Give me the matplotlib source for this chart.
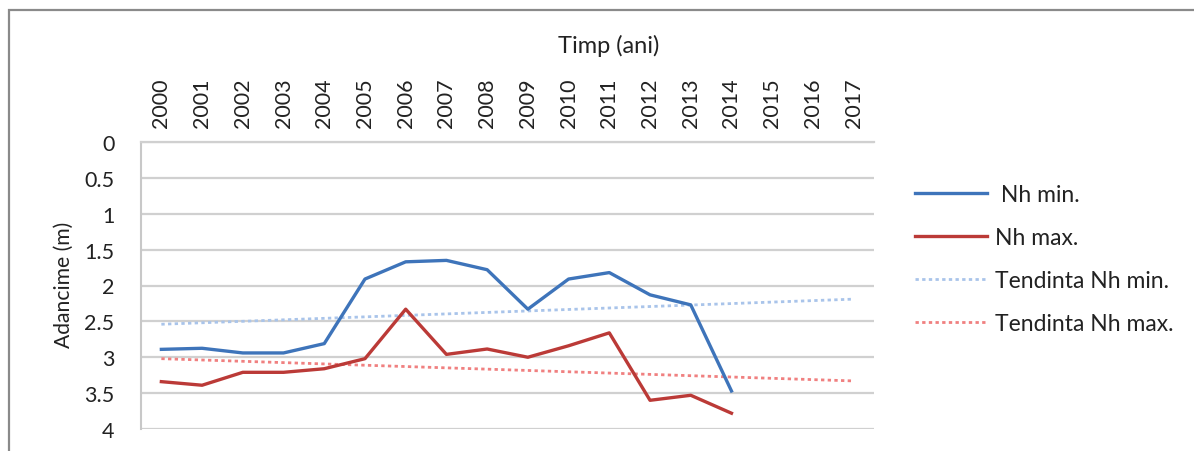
import numpy as np
import matplotlib.pyplot as plt
from matplotlib.patches import Rectangle

plt.rcParams['font.family'] = ['Lato', 'DejaVu Sans']

# Date
ani = [str(a) for a in range(2000, 2018)]
ani_masurati = ani[:15]
nh_min = [2.89, 2.875, 2.94, 2.94, 2.81, 1.91, 1.67, 1.65, 1.78, 2.33, 1.91, 1.82, 2.13, 2.27, 3.47]
nh_max = [3.34, 3.39, 3.21, 3.21, 3.16, 3.02, 2.33, 2.96, 2.885, 3.0, 2.84, 2.66, 3.60, 3.53, 3.78]
# capetele liniilor de tendinta (2000 si 2017)
tend_ani = [ani[0], ani[-1]]
tend_min = [2.54, 2.19]
tend_max = [3.02, 3.33]
y_ticks = [0, 0.5, 1, 1.5, 2, 2.5, 3, 3.5, 4]

W, H = 1194, 452
fig = plt.figure(figsize=(W / 100, H / 100), dpi=100)
ax = fig.add_axes([141 / W, 1 - 430 / H, (874 - 141) / W, (430 - 143) / H])

x = np.arange(len(ani))
idx = {a: i for i, a in enumerate(ani)}

ax.plot([idx[a] for a in tend_ani], tend_min, color='#a9c4ea', lw=2, ls=(0, (1.2, 1.2)),
        label='Tendinta Nh min.', zorder=3)
ax.plot([idx[a] for a in tend_ani], tend_max, color='#f08080', lw=2, ls=(0, (1.2, 1.2)),
        label='Tendinta Nh max.', zorder=3)
ax.plot([idx[a] for a in ani_masurati], nh_min, color='#3e74ba', lw=2.4, label=' Nh min.', zorder=4)
ax.plot([idx[a] for a in ani_masurati], nh_max, color='#bb3a37', lw=2.4, label='Nh max.', zorder=4)

ax.set_xlim(-0.5, len(ani) - 0.5)
ax.set_ylim(4, 0)
ax.set_xticks(x)
ax.set_xticklabels(ani, rotation=90)
ax.xaxis.tick_top()
ax.set_yticks(y_ticks)
ax.set_yticklabels([('%g' % v) for v in y_ticks])
ax.tick_params(axis='x', length=0, pad=11, labelsize=15.5, labelcolor='#222222')
ax.tick_params(axis='y', length=0, pad=19, labelsize=15.5, labelcolor='#222222')

ax.grid(axis='y', color='#d0d0d0', lw=1.6, zorder=0)
ax.set_axisbelow(True)
for s in ['right', 'bottom']:
    ax.spines[s].set_visible(False)
ax.spines['left'].set_color('#c8c8c8')
ax.spines['left'].set_linewidth(1.5)
ax.spines['top'].set_color('#d0d0d0')
ax.spines['top'].set_linewidth(1.6)

fig.text(609 / W, 1 - 46 / H, 'Timp (ani)', ha='center', va='center', fontsize=17, color='#222222')
fig.text(64 / W, 1 - 285 / H, 'Adancime (m)', ha='center', va='center', rotation=90,
         fontsize=15.2, color='#222222')

h, l = ax.get_legend_handles_labels()
order = [2, 3, 0, 1]
fig.legend([h[i] for i in order], [l[i] for i in order], loc='center left',
           bbox_to_anchor=(915 / W, 1 - 260 / H), frameon=False, borderpad=0,
           borderaxespad=0, handlelength=3.15, handletextpad=0.36, labelspacing=0.95,
           fontsize=16.5, labelcolor='#222222')

fig.patches.append(Rectangle((9 / W, -0.1), 1.2, 1 - 11 / H + 0.1, transform=fig.transFigure,
                             fill=False, edgecolor='#8a8a8a', lw=1.6))

plt.savefig('out.png', dpi=100)
